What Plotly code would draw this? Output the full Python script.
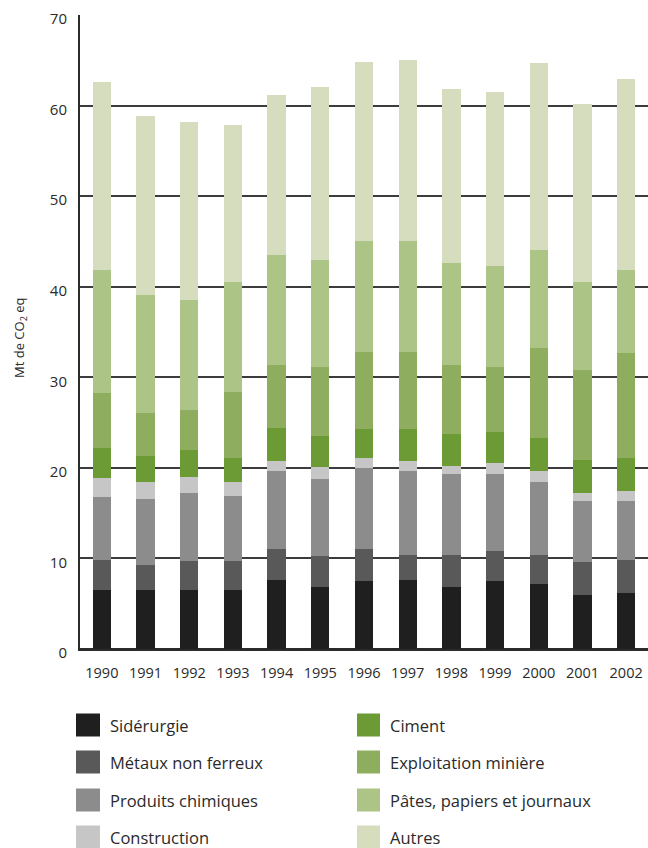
import plotly.graph_objects as go

years = ["1990", "1991", "1992", "1993", "1994", "1995", "1996",
         "1997", "1998", "1999", "2000", "2001", "2002"]

siderurgie = [6.5, 6.5, 6.5, 6.5, 7.6, 6.9, 7.5, 7.6, 6.9, 7.5, 7.2, 6.0, 6.2]
metaux = [3.3, 2.8, 3.2, 3.2, 3.4, 3.4, 3.5, 2.8, 3.5, 3.3, 3.2, 3.6, 3.6]
produits = [7.0, 7.3, 7.5, 7.2, 8.6, 8.5, 9.0, 9.2, 8.9, 8.5, 8.0, 6.7, 6.5]
construction = [2.1, 1.8, 1.8, 1.5, 1.2, 1.3, 1.1, 1.2, 0.9, 1.2, 1.2, 0.9, 1.2]
ciment = [3.3, 2.9, 3.0, 2.7, 3.6, 3.4, 3.2, 3.5, 3.5, 3.5, 3.7, 3.7, 3.6]
exploitation = [6.1, 4.8, 4.4, 7.3, 7.0, 7.6, 8.5, 8.5, 7.7, 7.1, 9.9, 9.9, 11.6]
pates = [13.6, 13.0, 12.1, 12.1, 12.1, 11.8, 12.2, 12.2, 11.2, 11.2, 10.9, 9.7, 9.1]
autres = [20.7, 19.8, 19.7, 17.4, 17.7, 19.2, 19.8, 20.0, 19.2, 19.2, 20.6, 19.7, 21.1]

series_names = ["Sidérurgie", "Métaux non ferreux", "Produits chimiques", "Construction",
                "Ciment", "Exploitation minière", "Pâtes, papiers et journaux", "Autres"]
series_values = [siderurgie, metaux, produits, construction,
                 ciment, exploitation, pates, autres]
series_colors = ["#1f1f1f", "#595959", "#8c8c8c", "#c6c6c6",
                 "#6c9a34", "#8fad5e", "#adc487", "#d6ddbe"]

y_ticks = [0, 10, 20, 30, 40, 50, 60, 70]
y_title = "Mt de CO<sub>2</sub> eq"

FONT = "Open Sans, Liberation Sans, sans-serif"

fig = go.Figure()
for name, vals, col in zip(series_names, series_values, series_colors):
    fig.add_trace(go.Bar(x=years, y=vals, name=name, marker_color=col,
                         marker_line_width=0, showlegend=False))

W, H = 648, 848
L, R, T, B = 80, 0, 15, 199
pw = W - L - R
ph = H - T - B


def px_x(px):
    return (px - L) / pw


def px_y(py):
    return (H - B - py) / ph


# custom legend (two columns, four rows)
rows_y = [725, 762, 800, 837]
cols = [(76, 100, 108), (357, 380, 388)]
for i, (name, col) in enumerate(zip(series_names, series_colors)):
    c = cols[i // 4]
    ry = rows_y[i % 4]
    fig.add_shape(type="rect", xref="paper", yref="paper",
                  x0=px_x(c[0]), x1=px_x(c[1]),
                  y0=px_y(ry + 11.5), y1=px_y(ry - 11.5),
                  fillcolor=col, line_width=0)
    fig.add_annotation(xref="paper", yref="paper", x=px_x(c[2]), y=px_y(ry),
                       text=name, showarrow=False, xanchor="left", yanchor="middle",
                       font=dict(family=FONT, size=16.5, color="#2a2a2a"))

fig.add_annotation(xref="paper", yref="paper", x=px_x(20), y=px_y(338),
                   text=y_title, textangle=-90, showarrow=False,
                   xanchor="center", yanchor="middle",
                   font=dict(family=FONT, size=13, color="#2a2a2a"))

fig.update_layout(
    width=W, height=H,
    margin=dict(l=L, r=R, t=T, b=B, pad=0),
    barmode="stack",
    bargap=0.58,
    plot_bgcolor="white",
    paper_bgcolor="white",
    font=dict(family=FONT, color="#2a2a2a"),
)
fig.update_xaxes(
    type="category", range=[-0.5, 12.5],
    showgrid=False, showline=True, linecolor="#2b2b2b", linewidth=2,
    ticks="", tickfont=dict(family=FONT, size=14.5, color="#2a2a2a"),
    ticklabelstandoff=10,
)
fig.update_yaxes(
    range=[0, 70], tickvals=y_ticks, ticktext=[str(v) for v in y_ticks],
    showgrid=True, gridcolor="#3c3c3c", gridwidth=1.5,
    showline=True, linecolor="#2b2b2b", linewidth=2,
    zeroline=True, zerolinecolor="#2b2b2b", zerolinewidth=2,
    ticks="", tickfont=dict(family=FONT, size=15, color="#2a2a2a"),
    ticklabelstandoff=8, ticklabelshift=4,
)

fig.write_html(
    "out.html",
    config={"displayModeBar": False},
    post_script="document.body.style.margin='0';document.body.style.overflow='hidden';",
)
